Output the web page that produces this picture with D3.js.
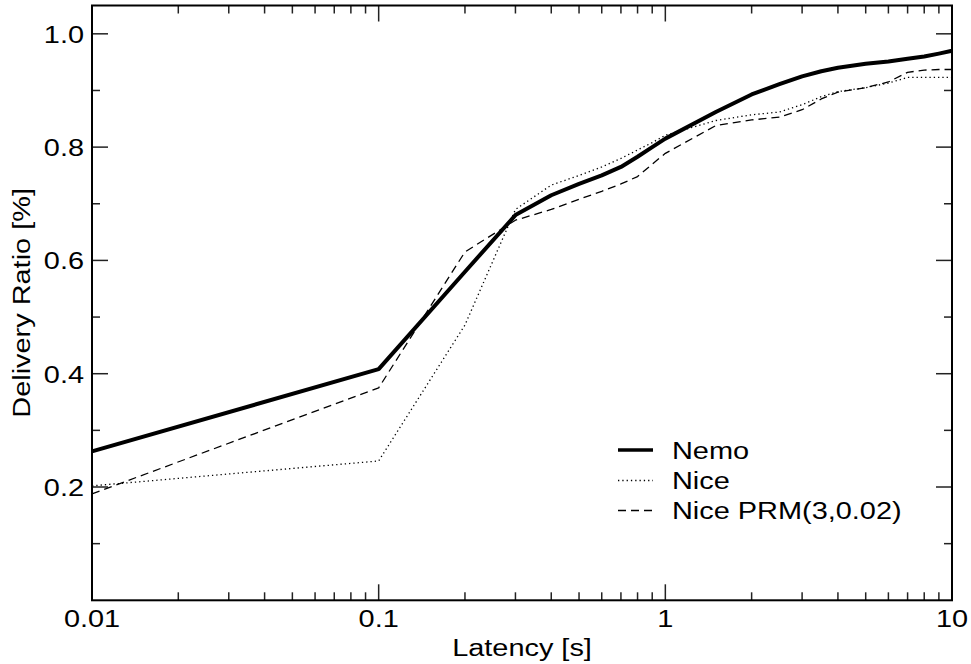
<!DOCTYPE html>
<html>
<head>
<meta charset="utf-8">
<script src="https://cdn.jsdelivr.net/npm/d3@7"></script>
<style>
  body { margin: 0; background: #fff; }
  text { font-family: "Liberation Sans", Arial, sans-serif; font-size: 24.5px; fill: #000; }
</style>
</head>
<body>
<svg width="971" height="664"></svg>
<script>
// latency points (s) shared by all series
const latency = [0.01, 0.1, 0.2, 0.3, 0.4, 0.5, 0.6, 0.7, 0.8, 0.9, 1, 1.5, 2, 2.5, 3, 3.5, 4, 5, 6, 7, 8, 9, 10];
// delivery ratio
const nemo    = [0.263, 0.408, 0.580, 0.680, 0.715, 0.735, 0.750, 0.765, 0.783, 0.800, 0.815, 0.862, 0.893, 0.911, 0.925, 0.934, 0.940, 0.947, 0.951, 0.956, 0.960, 0.965, 0.970];
const nice    = [0.202, 0.246, 0.486, 0.690, 0.733, 0.750, 0.765, 0.780, 0.795, 0.808, 0.821, 0.847, 0.857, 0.862, 0.875, 0.889, 0.898, 0.905, 0.913, 0.923, 0.923, 0.923, 0.923];
const nicePrm = [0.188, 0.375, 0.615, 0.671, 0.690, 0.708, 0.722, 0.735, 0.748, 0.770, 0.789, 0.838, 0.848, 0.853, 0.866, 0.885, 0.897, 0.905, 0.915, 0.932, 0.936, 0.937, 0.937];

const seriesNames = ["Nemo", "Nice", "Nice PRM(3,0.02)"];

// ticks
const xMajor = [0.01, 0.1, 1, 10];
const xMajorLabels = ["0.01", "0.1", "1", "10"];
const yMajor = [0.2, 0.4, 0.6, 0.8, 1.0];
const yMajorLabels = ["0.2", "0.4", "0.6", "0.8", "1.0"];
const yMinor = [0.1, 0.3, 0.5, 0.7, 0.9];

const xTitle = "Latency [s]";
const yTitle = "Delivery Ratio [%]";

// layout
const plotL = 92, plotR = 952, plotT = 5.5, plotB = 600.3;
const stretch = 1.18; // text looks horizontally widened

const svg = d3.select("svg");

const x = d3.scaleLog().domain([0.01, 10]).range([plotL, plotR]);
const y = d3.scaleLinear().domain([0, 1.05]).range([plotB, plotT]);

// minor x ticks: 2..9 in each decade
const xMinor = [];
xMajor.slice(0, -1).forEach(d => {
    for (let k = 2; k <= 9; k++) xMinor.push(d * k);
});

// helper for stretched text
const addText = (px, py, str, anchor, rot) => {
    svg.append("text")
        .attr("transform", `translate(${px},${py})` + (rot ? ` rotate(${rot})` : "") + ` scale(${stretch},1)`)
        .attr("text-anchor", anchor)
        .text(str);
};

// tick marks (inward on all four sides)
const tickG = svg.append("g").attr("stroke", "#222").attr("stroke-width", 1.5);
const drawX = (vals, len) => vals.forEach(v => {
    tickG.append("line").attr("x1", x(v)).attr("x2", x(v)).attr("y1", plotB).attr("y2", plotB - len);
    tickG.append("line").attr("x1", x(v)).attr("x2", x(v)).attr("y1", plotT).attr("y2", plotT + len);
});
const drawY = (vals, len) => vals.forEach(v => {
    tickG.append("line").attr("y1", y(v)).attr("y2", y(v)).attr("x1", plotL).attr("x2", plotL + len);
    tickG.append("line").attr("y1", y(v)).attr("y2", y(v)).attr("x1", plotR).attr("x2", plotR - len);
});
drawX(xMajor, 16);
drawX(xMinor, 8);
drawY(yMajor, 16);
drawY(yMinor, 8);

// frame
svg.append("rect")
    .attr("x", plotL).attr("y", plotT)
    .attr("width", plotR - plotL).attr("height", plotB - plotT)
    .attr("fill", "none").attr("stroke", "#000").attr("stroke-width", 2);

// tick labels
xMajor.forEach((v, i) => addText(x(v), 626.5, xMajorLabels[i], "middle"));
yMajor.forEach((v, i) => addText(84, y(v) + 9, yMajorLabels[i], "end"));

// axis titles
addText((plotL + plotR) / 2, 656, xTitle, "middle");
addText(30, (plotT + plotB) / 2, yTitle, "middle", -90);

// lines
const styles = [
    { w: 4, dash: null },
    { w: 1.3, dash: "1.3,3" },
    { w: 1.3, dash: "8,5" },
];
const allSeries = [nemo, nice, nicePrm];

const line = d3.line()
    .x(d => x(d[0]))
    .y(d => y(d[1]));

const plotG = svg.append("g");
allSeries.forEach((vals, i) => {
    plotG.append("path")
        .datum(latency.map((l, j) => [l, vals[j]]))
        .attr("fill", "none")
        .attr("stroke", "#000")
        .attr("stroke-width", styles[i].w)
        .attr("stroke-linejoin", "round")
        .attr("stroke-dasharray", styles[i].dash)
        .attr("d", line);
});

// legend
const legendY = [450, 480.5, 510.5];
seriesNames.forEach((name, i) => {
    svg.append("line")
        .attr("x1", 618).attr("x2", 653)
        .attr("y1", legendY[i]).attr("y2", legendY[i])
        .attr("stroke", "#000")
        .attr("stroke-width", styles[i].w === 4 ? 3.5 : 1.3)
        .attr("stroke-dasharray", styles[i].dash);
    addText(672, legendY[i] + 8.5, name, "start");
});
</script>
</body>
</html>
